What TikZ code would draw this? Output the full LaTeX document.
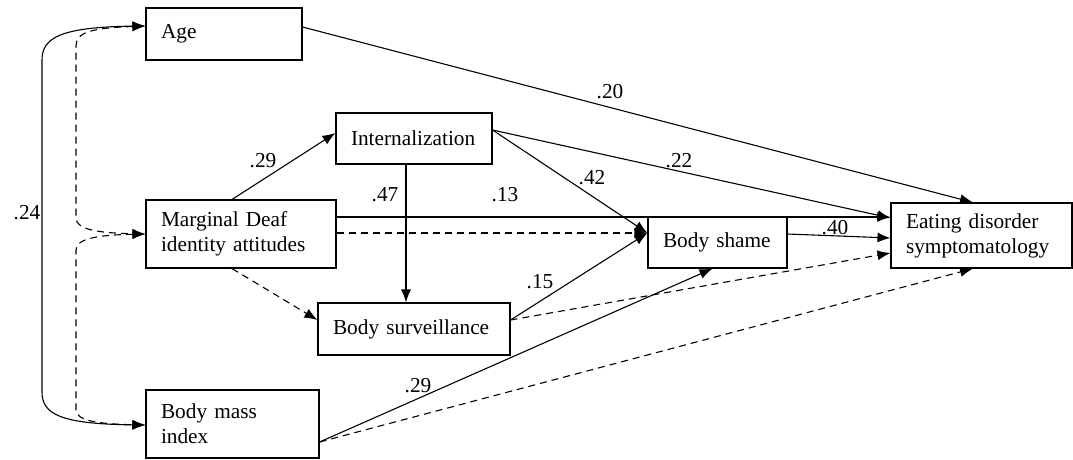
\documentclass[tikz,border=0pt]{standalone}
\usepackage{fontspec}
\setmainfont{Liberation Serif}
\usetikzlibrary{arrows.meta}

\tikzset{
  var/.style={draw, line width=1.1pt, rectangle, inner xsep=15pt, inner ysep=0pt,
    align=left, font=\fontsize{21.3}{25}\selectfont},
  effect/.style={-{Latex[length=13pt,width=10pt]}, line width=1.1pt},
  noeffect/.style={effect, dash pattern=on 7pt off 5pt},
  cov/.style={{Latex[length=13pt,width=10pt]}-{Latex[length=13pt,width=10pt]}, line width=1.1pt},
  coef/.style={inner sep=0pt, font=\fontsize{21.3}{25}\selectfont}
}

\begin{document}
\begin{tikzpicture}[x=1pt, y=-1pt]
  \useasboundingbox (0,0) rectangle (1073,459);

  % variables
  \node[var, text width=126pt, minimum height=52pt] (age) at (224,34) {Age};
  \node[var, text width=160pt, minimum height=68pt] (md) at (241,234) {Marginal Deaf\\identity attitudes};
  \node[var, text width=143pt, minimum height=68pt] (bmi) at (232.5,424) {Body mass\\index};
  \node[var, text width=126pt, minimum height=51pt] (int) at (414,138.5) {Internalization};
  \node[var, text width=162pt, minimum height=52pt] (bs) at (414,329) {Body surveillance};
  \node[var, text width=109pt, minimum height=51pt] (sh) at (717.5,242.5) {Body shame};
  \node[var, text width=151pt, minimum height=65pt] (ed) at (981.5,235.5) {Eating disorder\\symptomatology};

  % correlations
  \draw[cov] ([yshift=8pt]age.west) .. controls (60,27) and (42,38) .. (42,60) -- (42,392)
    .. controls (42,414) and (60,424) .. ([yshift=-1pt]bmi.west);
  \draw[cov, dash pattern=on 7pt off 5pt] ([yshift=8pt]age.west) .. controls (92,28) and (76,32) .. (76,46)
    -- (76,218) .. controls (76,230) and (100,233) .. (md.west);
  \draw[cov, dash pattern=on 7pt off 5pt] (md.west) .. controls (100,235) and (76,238) .. (76,250)
    -- (76,410) .. controls (76,421) and (100,424) .. ([yshift=-1pt]bmi.west);

  % paths
  \draw[effect] ([yshift=7pt]age.east) -- ([xshift=-8.5pt]ed.north);
  \draw[effect] ([yshift=8.5pt]int.east) -- ([yshift=17.5pt]ed.west);
  \draw[effect] ([yshift=8.5pt]int.east) -- ([yshift=9.5pt]sh.west);
  \draw[effect] ([xshift=-8pt]int.south) -- ([xshift=-8pt]bs.north);
  \draw[effect] ([yshift=17pt]md.east) -- ([yshift=18.5pt]ed.west);
  \draw[noeffect] ([yshift=1pt]md.east) -- ([yshift=9.5pt]sh.west);
  \draw[effect] ([xshift=-9pt]md.north) -- ([yshift=5.5pt]int.west);
  \draw[noeffect] ([xshift=-9pt]md.south) -- ([yshift=9pt]bs.west);
  \draw[effect] ([yshift=9pt]bs.east) -- ([yshift=9.5pt]sh.west);
  \draw[noeffect] ([yshift=9pt]bs.east) -- ([yshift=-17.5pt]ed.west);
  \draw[effect] ([yshift=8.5pt]sh.east) -- ([yshift=-2.5pt]ed.west);
  \draw[effect] ([yshift=-18pt]bmi.east) -- ([xshift=-5pt]sh.south);
  \draw[noeffect] ([yshift=-18pt]bmi.east) -- ([xshift=-8.5pt]ed.south);

  % coefficients
  \node[coef] (c20) at (610,92) {.20};
  \node[coef] (c22) at (679,161) {.22};
  \node[coef] (c42) at (592,178) {.42};
  \node[coef] (c47) at (385,195) {.47};
  \node[coef] (c13) at (505,195) {.13};
  \node[coef] (c29a) at (263,161) {.29};
  \node[coef] (c15) at (540,282) {.15};
  \node[coef] (c40) at (835,228) {.40};
  \node[coef] (c29b) at (418,386) {.29};
  \node[coef] (c24) at (27,213) {.24};
\end{tikzpicture}
\end{document}
